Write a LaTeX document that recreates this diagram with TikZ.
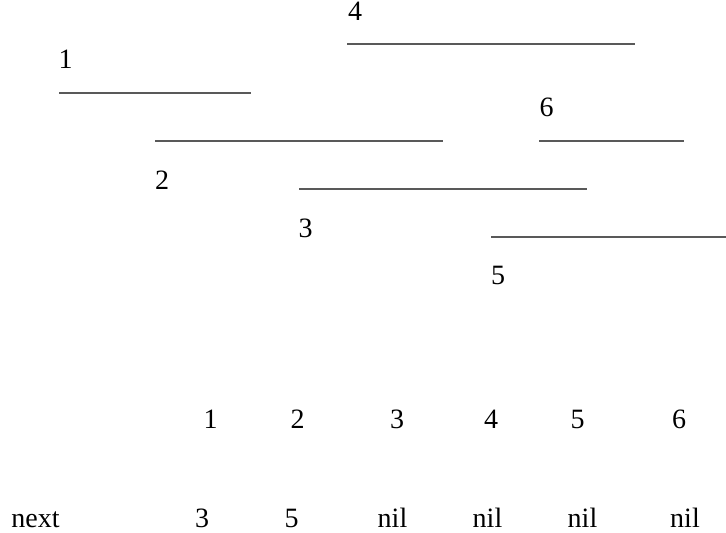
\documentclass[tikz,border=0pt]{standalone}
\usepackage{fontspec}
\setmainfont{Liberation Serif}
\usepackage{tikz}
\usetikzlibrary{positioning}

\begin{document}
\begin{tikzpicture}[
    x=0.5pt, y=-0.5pt,
    seg/.style={draw=black!65, line width=0.7pt},
    num/.style={inner sep=0pt, anchor=base, font=\fontsize{14}{16}\selectfont},
    word/.style={inner sep=0pt, anchor=base west, font=\fontsize{14}{16}\selectfont}
]
\useasboundingbox (0,0) rectangle (726,533);

% Interval end points
\coordinate (s1) at (59,93);   \coordinate (e1) at (251,93);
\coordinate (s2) at (155,141); \coordinate (e2) at (443,141);
\coordinate (s3) at (299,189); \coordinate (e3) at (587,189);
\coordinate (s4) at (347,44);  \coordinate (e4) at (635,44);
\coordinate (s5) at (491,237); \coordinate (e5) at (726,237);
\coordinate (s6) at (539,141); \coordinate (e6) at (684,141);

% Intervals
\draw[seg] (s1) -- (e1);
\draw[seg] (s2) -- (e2);
\draw[seg] (s3) -- (e3);
\draw[seg] (s4) -- (e4);
\draw[seg] (s5) -- (e5);
\draw[seg] (s6) -- (e6);

% Interval labels
\node[num] (l1) at (65.5,69) {1};
\node[num] (l2) at (162,190) {2};
\node[num] (l3) at (305.5,238) {3};
\node[num] (l4) at (355,21) {4};
\node[num] (l5) at (498,285) {5};
\node[num] (l6) at (546.5,117) {6};

% Index row
\node[num] (i1) at (210.5,428) {1};
\node[num] (i2) at (297.5,428) {2};
\node[num] (i3) at (397,428) {3};
\node[num] (i4) at (491,428) {4};
\node[num] (i5) at (577.5,428) {5};
\node[num] (i6) at (679,428) {6};

% next row
\node[word] (nxt) at (11,527) {next};
\node[num] (n1) at (202,527) {3};
\node[num] (n2) at (291.5,527) {5};
\node[num] (n3) at (392.5,527) {nil};
\node[num] (n4) at (487.5,527) {nil};
\node[num] (n5) at (582.5,527) {nil};
\node[num] (n6) at (685,527) {nil};

\end{tikzpicture}
\end{document}
